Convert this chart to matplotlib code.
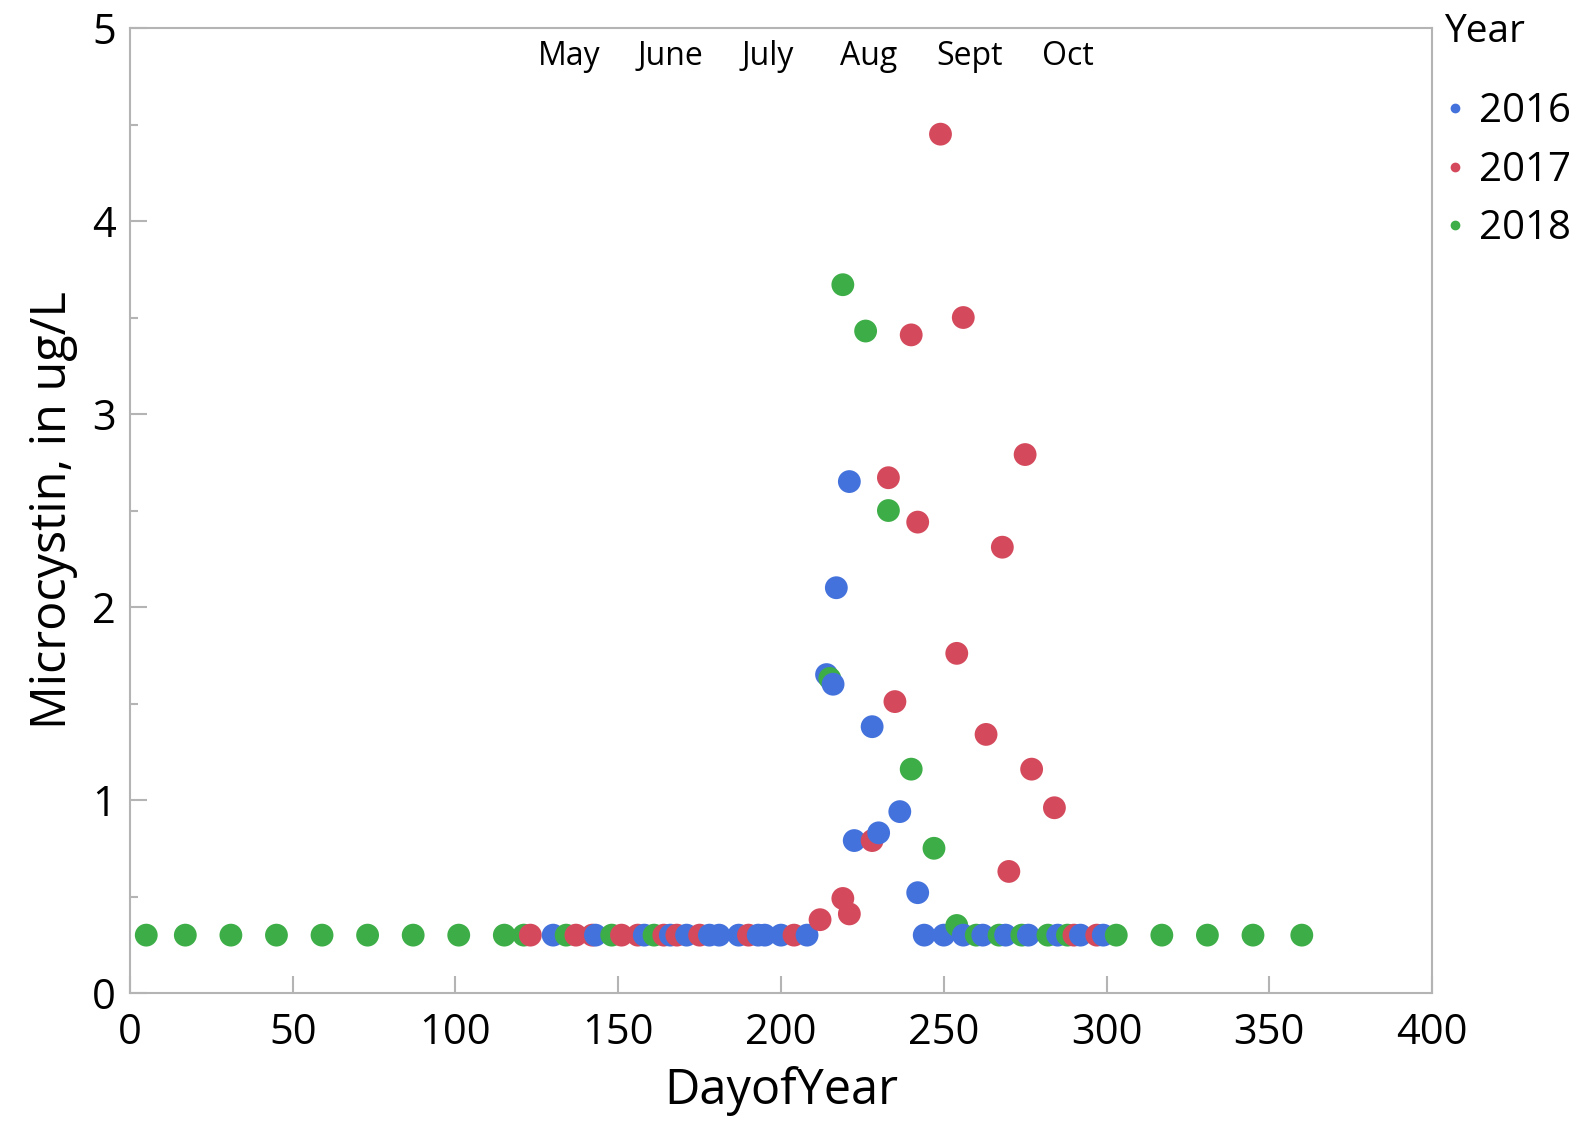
import numpy as np
import matplotlib.pyplot as plt
from matplotlib.lines import Line2D

plt.rcParams['font.family'] = ['Open Sans', 'DejaVu Sans']

# --- data ---
years = ["2016", "2017", "2018"]
colors = ["#4472DC", "#D44A5C", "#3DAE47"]

doy_2016 = [130, 143, 158, 166, 171, 178, 181, 187, 193, 195, 200, 208,
            214, 216, 217, 221, 222.5, 228, 230, 236.5, 242,
            244, 250, 256, 262, 269, 276, 285, 292, 299]
mc_2016 = [0.3, 0.3, 0.3, 0.3, 0.3, 0.3, 0.3, 0.3, 0.3, 0.3, 0.3, 0.3,
           1.65, 1.60, 2.10, 2.65, 0.79, 1.38, 0.83, 0.94, 0.52,
           0.3, 0.3, 0.3, 0.3, 0.3, 0.3, 0.3, 0.3, 0.3]

doy_2017 = [123, 137, 142, 151, 156, 164, 168, 175, 190, 204,
            212, 219, 221, 228, 233, 235, 240, 242, 249, 254, 256,
            263, 268, 270, 275, 277, 284, 290, 297]
mc_2017 = [0.3, 0.3, 0.3, 0.3, 0.3, 0.3, 0.3, 0.3, 0.3, 0.3,
           0.38, 0.49, 0.41, 0.79, 2.67, 1.51, 3.41, 2.44, 4.45, 1.76, 3.50,
           1.34, 2.31, 0.63, 2.79, 1.16, 0.96, 0.3, 0.3]

doy_2018 = [5, 17, 31, 45, 59, 73, 87, 101, 115, 121, 134, 148, 161,
            215, 219, 226, 233, 240, 247, 254,
            260, 267, 274, 282, 288, 303, 317, 331, 345, 360]
mc_2018 = [0.3, 0.3, 0.3, 0.3, 0.3, 0.3, 0.3, 0.3, 0.3, 0.3, 0.3, 0.3, 0.3,
           1.63, 3.67, 3.43, 2.50, 1.16, 0.75, 0.35,
           0.3, 0.3, 0.3, 0.3, 0.3, 0.3, 0.3, 0.3, 0.3, 0.3]

months = ["May", "June", "July", "Aug", "Sept", "Oct"]
month_doy = [135, 166, 196, 227, 258, 288]

# points are drawn in day order, all years mixed (like the original)
all_doy = np.concatenate([doy_2016, doy_2017, doy_2018])
all_mc = np.concatenate([mc_2016, mc_2017, mc_2018])
all_col = np.array([colors[0]] * len(doy_2016) + [colors[1]] * len(doy_2017)
                   + [colors[2]] * len(doy_2018))
order = np.argsort(all_doy, kind="stable")

fig = plt.figure(figsize=(15.89, 11.25), dpi=100)
ax = fig.add_axes([0.0818, 0.1173, 0.8194, 0.8578])

ax.scatter(all_doy[order], all_mc[order], c=all_col[order], s=270,
           linewidths=0, clip_on=False, zorder=3)

ax.set_xlim(0, 400)
ax.set_ylim(0, 5)
ax.set_xticks(np.arange(0, 401, 50))
ax.set_yticks(np.arange(0, 6, 1))
ax.set_yticks(np.arange(0.5, 5, 1), minor=True)

for sp in ax.spines.values():
    sp.set_color("#b4b4b4")
    sp.set_linewidth(1.5)

ax.tick_params(axis="both", which="major", direction="in", length=12,
               width=1.5, color="#b4b4b4", labelsize=30, pad=10)
ax.tick_params(axis="y", which="minor", direction="in", length=6,
               width=1.5, color="#b4b4b4")
ax.tick_params(axis="x", pad=14)

ax.set_xlabel("DayofYear", fontsize=35, labelpad=8)
ax.set_ylabel("Microcystin, in ug/L", fontsize=35, labelpad=10)

for m, d in zip(months, month_doy):
    ax.text(d, 4.85, m, ha="center", va="center", fontsize=23)

# legend: title drawn separately so the gap matches the original
fig.text(0.9085, 0.988, "Year", ha="left", va="top", fontsize=28)
handles = [Line2D([], [], marker="o", linestyle="", color=c, markersize=6)
           for c in colors]
fig.legend(handles, years, loc="upper left",
           bbox_to_anchor=(0.899, 0.933), frameon=False, fontsize=29,
           handlelength=0.5, handletextpad=0.35, labelspacing=0.45,
           borderaxespad=0.0)

plt.savefig("out.png")
